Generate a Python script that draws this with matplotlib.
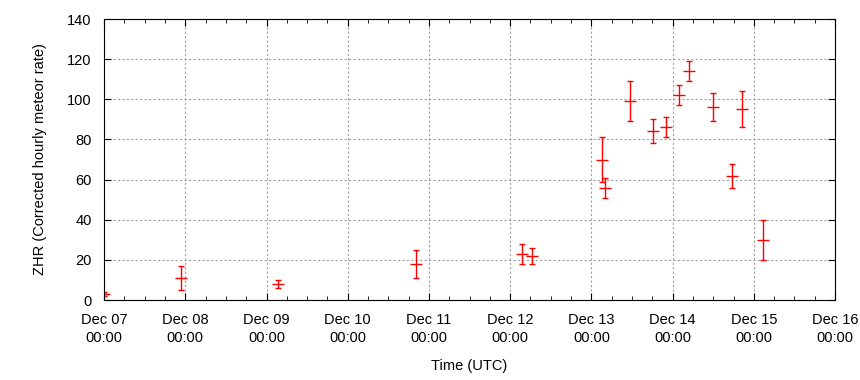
import numpy as np
import matplotlib.pyplot as plt
import matplotlib.dates as mdates
from datetime import datetime

plt.rcParams['font.family'] = ['Liberation Sans', 'DejaVu Sans']

times = ["2012-12-07 00:00", "2012-12-07 22:51", "2012-12-09 03:30", "2012-12-10 20:17",
         "2012-12-12 03:36", "2012-12-12 06:33", "2012-12-13 03:04", "2012-12-13 04:08",
         "2012-12-13 11:31", "2012-12-13 18:19", "2012-12-13 22:09", "2012-12-14 02:00",
         "2012-12-14 04:57", "2012-12-14 12:03", "2012-12-14 17:40", "2012-12-14 20:26",
         "2012-12-15 02:50"]
zhr = [3, 11, 8, 18, 23, 22, 70, 56, 99, 84, 86, 102, 114, 96, 62, 95, 30]
err = [1, 6, 2, 7, 5, 4, 11, 5, 10, 6, 5, 5, 5, 7, 6, 9, 10]

t = [datetime.strptime(s, "%Y-%m-%d %H:%M") for s in times]

fig = plt.figure(figsize=(8.6, 3.8), dpi=100)
ax = fig.add_axes([0.121, 0.2105, 0.85, 0.7395])

ax.errorbar(t, zhr, yerr=err, fmt='_', color='red', ms=8, mew=1,
            elinewidth=1, capsize=2.5, capthick=1)

ax.set_xlim(datetime(2012, 12, 7), datetime(2012, 12, 16))
ax.set_ylim(0, 140)
ax.set_yticks(np.arange(0, 141, 20))
ax.xaxis.set_major_locator(mdates.DayLocator())
ax.xaxis.set_minor_locator(mdates.HourLocator(byhour=[6, 12, 18]))
ax.xaxis.set_major_formatter(mdates.DateFormatter("%b %d\n%H:%M"))

ax.tick_params(which='both', direction='in', top=True, right=True, labelsize=10.5)
ax.tick_params(axis='x', pad=9)
ax.tick_params(axis='y', pad=9)
ax.tick_params(which='major', length=5)
ax.tick_params(which='minor', length=3)
for lbl in ax.get_xticklabels():
    lbl.set_linespacing(1.45)
ax.grid(True, which='major', color='#a0a0a0', linestyle=(0, (2, 2)), linewidth=0.8)

ax.set_xlabel("Time (UTC)", fontsize=10.5, labelpad=10)
ax.set_ylabel("ZHR (Corrected hourly meteor rate)", fontsize=10.5, labelpad=14)

fig.savefig("out.png", dpi=100)
